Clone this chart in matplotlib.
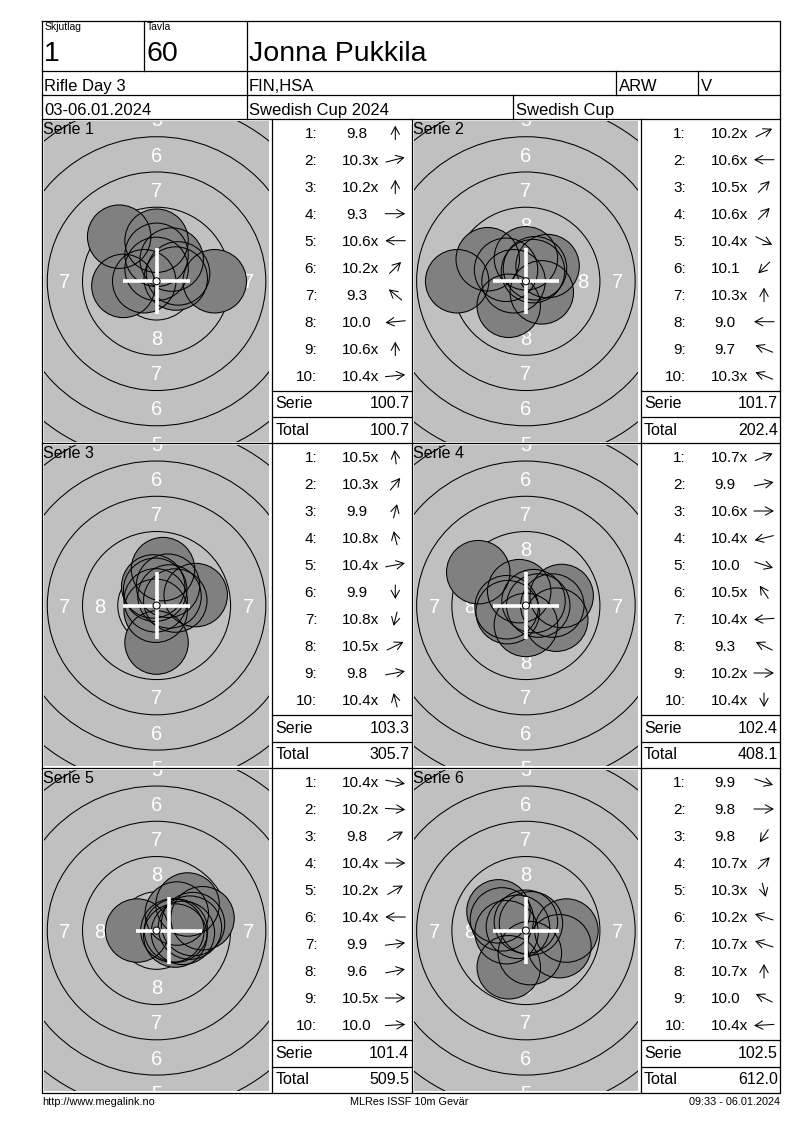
import numpy as np
import matplotlib as mpl
mpl.use('Agg')
import matplotlib.pyplot as plt
from matplotlib.patches import Circle, FancyArrowPatch

plt.rcParams['font.family'] = ['Liberation Sans', 'DejaVu Sans']

# header / footer texts
relay = '1'
lane = '60'
shooter = 'Jonna Pukkila'
event = 'Rifle Day 3'
club = 'FIN,HSA'
klass = 'ARW'
flag = 'V'
dates = '03-06.01.2024'
competition = 'Swedish Cup 2024'
cup = 'Swedish Cup'
footer_left = 'http://www.megalink.no'
footer_mid = 'MLRes ISSF 10m Gevär'
footer_right = '09:33 - 06.01.2024'

# shots as printed, one list per serie
scores = [
    ['9.8', '10.3x', '10.2x', '9.3', '10.6x', '10.2x', '9.3', '10.0', '10.6x', '10.4x'],
    ['10.2x', '10.6x', '10.5x', '10.6x', '10.4x', '10.1', '10.3x', '9.0', '9.7', '10.3x'],
    ['10.5x', '10.3x', '9.9', '10.8x', '10.4x', '9.9', '10.8x', '10.5x', '9.8', '10.4x'],
    ['10.7x', '9.9', '10.6x', '10.4x', '10.0', '10.5x', '10.4x', '9.3', '10.2x', '10.4x'],
    ['10.4x', '10.2x', '9.8', '10.4x', '10.2x', '10.4x', '9.9', '9.6', '10.5x', '10.0'],
    ['9.9', '9.8', '9.8', '10.7x', '10.3x', '10.2x', '10.7x', '10.7x', '10.0', '10.4x'],
]
# direction of each hit seen from the centre (degrees)
directions = [
    [90, 20, 90, 0, 180, 55, 130, 188, 90, 8],
    [35, 180, 55, 55, -35, 235, 90, 180, 150, 150],
    [95, 60, 80, 100, 15, 270, 260, 35, 15, 100],
    [30, 15, 0, 200, -25, 115, 185, 145, 0, 270],
    [-15, -5, 40, 0, 40, 180, 10, 15, 0, 5],
    [-25, 0, 245, 55, 280, 155, 155, 90, 145, 185],
]
cross_offset = [0, 0, 0, 0, 0.9, 0]   # mm, white cross position

W, H = 800, 1130
PX = 14.1            # pixels per mm on the target
frame_l, frame_r, frame_t, frame_b = 42, 780, 20.7, 1092.7
panel_tops = [119, 443.3, 768.3]
col_left = [42, 412]
list_left = [272.3, 641]

fig = plt.figure(figsize=(8, 11.3), dpi=100, facecolor='white')

values = [[float(s.rstrip('x')) for s in ser] for ser in scores]
serie_sum = [sum(v) for v in values]
total = np.cumsum(serie_sum)

ring_r = {k: 0.25 + 2.5 * (10 - k) for k in range(1, 11)}

# ---- targets
for i in range(6):
    row, col = divmod(i, 2)
    top = panel_tops[row]
    x0 = col_left[col] + 1.8
    w = list_left[col] - 3 - x0
    y0 = top + 2
    h = 320.5
    ax = fig.add_axes([x0 / W, 1 - (y0 + h) / H, w / W, h / H])
    hw, hh = w / 2 / PX, h / 2 / PX
    ax.set_xlim(-hw, hw)
    ax.set_ylim(-hh, hh)
    ax.set_facecolor('#c0c0c0')
    ax.set_xticks([])
    ax.set_yticks([])
    for s in ax.spines.values():
        s.set_visible(False)

    for k in range(1, 10):
        ax.add_patch(Circle((0, 0), ring_r[k], fill=False, ec='black', lw=0.75, zorder=1))
    for k in range(1, 9):
        rl = 2.5 * (10 - k) - 1.0
        for ux, uy in [(0, 1), (0, -1), (1, 0), (-1, 0)]:
            # only the ring numbers that show at least partly inside the panel
            if ux and rl > hw - 0.2:
                continue
            if uy and rl > hh + 0.5:
                continue
            ax.text(ux * rl, uy * rl - 0.51, str(k), color='white', fontsize=14.5,
                    ha='center', va='baseline', zorder=2, clip_on=True)

    d = [(10.95 - v) * 2.5 for v in values[i]]
    th = np.radians(directions[i])
    hx = np.array(d) * np.cos(th)
    hy = np.array(d) * np.sin(th)
    for x, y in zip(hx, hy):
        ax.add_patch(Circle((x, y), 2.25, fc='#808080', ec='none', zorder=3))
    for x, y in zip(hx, hy):
        ax.add_patch(Circle((x, y), 2.25, fill=False, ec='black', lw=0.75, zorder=4))

    cx = cross_offset[i]
    ax.plot([cx - 2.35, cx + 2.35], [0, 0], color='white', lw=2.6,
            solid_capstyle='butt', zorder=5)
    ax.plot([cx, cx], [-2.35, 2.35], color='white', lw=2.6,
            solid_capstyle='butt', zorder=5)
    ax.add_patch(Circle((0, 0), 0.25, fc='white', ec='black', lw=0.75, zorder=6))

# ---- overlay for frame, tables and texts
ov = fig.add_axes([0, 0, 1, 1])
ov.set_xlim(0, W)
ov.set_ylim(H, 0)
ov.axis('off')

lk = dict(color='black', lw=0.9)
ov.plot([frame_l, frame_r, frame_r, frame_l, frame_l],
        [frame_t, frame_t, frame_b, frame_b, frame_t], **lk)
for y in [70.7, 95, 119, 443.3, 768.3]:
    ov.plot([frame_l, frame_r], [y, y], **lk)
ov.plot([144.3, 144.3], [frame_t, 70.7], **lk)
ov.plot([246.7, 246.7], [frame_t, 119], **lk)
ov.plot([616, 616], [70.7, 95], **lk)
ov.plot([698.3, 698.3], [70.7, 95], **lk)
ov.plot([513.3, 513.3], [95, 119], **lk)
for x in [272.3, 412, 641]:
    ov.plot([x, x], [119, frame_b], **lk)
for top in panel_tops:
    for c in range(2):
        xr = 412 if c == 0 else frame_r
        for dy in [271.7, 298.3]:
            ov.plot([list_left[c], xr], [top + dy, top + dy], **lk)

# header texts
ov.text(45, 30, 'Skjutlag', fontsize=7.5, va='baseline')
ov.text(147, 30, 'Tavla', fontsize=7.5, va='baseline')
ov.text(44, 61, relay, fontsize=20.5, va='baseline')
ov.text(146, 61, lane, fontsize=20.5, va='baseline')
ov.text(249, 61, shooter, fontsize=20.5, va='baseline')
ov.text(44, 91, event, fontsize=12, va='baseline')
ov.text(249, 91, club, fontsize=12, va='baseline')
ov.text(619, 91, klass, fontsize=12, va='baseline')
ov.text(701, 91, flag, fontsize=12, va='baseline')
ov.text(44, 115, dates, fontsize=12, va='baseline')
ov.text(249, 115, competition, fontsize=12, va='baseline')
ov.text(516, 115, cup, fontsize=12, va='baseline')

# shot lists
for i in range(6):
    row, col = divmod(i, 2)
    top = panel_tops[row]
    lx = list_left[col]
    ov.text(col_left[col] + 1, top + 15, 'Serie %d' % (i + 1), fontsize=11.5, va='baseline')
    for n in range(10):
        yb = top + 18.7 + 27 * n
        ov.text(lx + 45, yb, '%d:' % (n + 1), fontsize=11, ha='right', va='baseline')
        sx = lx + 70 if values[i][n] >= 10 else lx + 73.5
        ov.text(sx, yb, scores[i][n], fontsize=11, ha='left', va='baseline')
        t = np.radians(directions[i][n])
        ax0, ay0 = lx + 123, yb - 5
        vx, vy = 10 * np.cos(t), -7 * np.sin(t)
        ov.add_patch(FancyArrowPatch((ax0 - vx, ay0 - vy), (ax0 + vx, ay0 + vy),
                                     arrowstyle='->,head_length=0.55,head_width=0.3',
                                     mutation_scale=10, lw=0.75, color='black',
                                     shrinkA=0, shrinkB=0))
    ov.text(lx + 3, top + 289.3, 'Serie', fontsize=11.5, va='baseline')
    ov.text(lx + 137, top + 289.3, '%.1f' % serie_sum[i], fontsize=11.5,
            ha='right', va='baseline')
    ov.text(lx + 3, top + 316, 'Total', fontsize=11.5, va='baseline')
    ov.text(lx + 137, top + 316, '%.1f' % total[i], fontsize=11.5,
            ha='right', va='baseline')

# footer
ov.text(42, 1105, footer_left, fontsize=7.8, va='baseline')
ov.text(409, 1105, footer_mid, fontsize=7.8, ha='center', va='baseline')
ov.text(780, 1105, footer_right, fontsize=7.8, ha='right', va='baseline')

fig.savefig('out.png', dpi=100)
